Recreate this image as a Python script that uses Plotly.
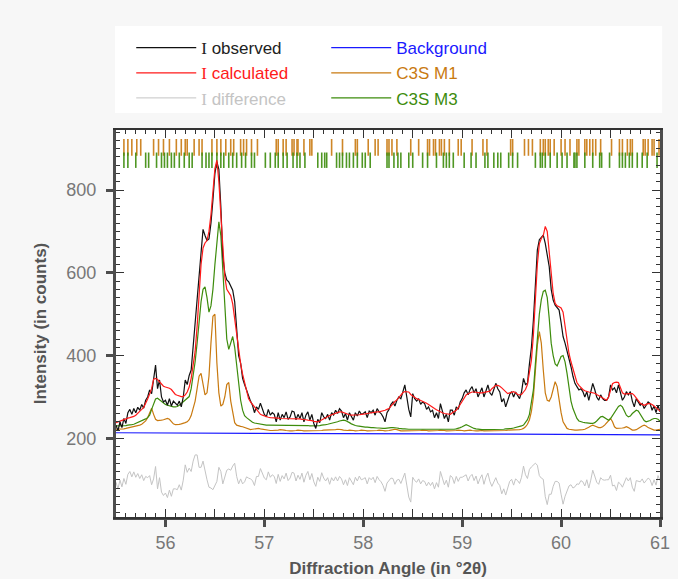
import numpy as np
import plotly.graph_objects as go

# ---------------- data ----------------
angle_start = 55.50
angle_step = 0.02

i_observed = [
    232, 218, 240, 226, 248, 236, 262, 270, 258, 272,
    262, 275, 268, 282, 273, 292, 300, 317, 308, 345,
    377, 320, 341, 300, 288, 292, 280, 296, 278, 290,
    284, 280, 290, 276, 300, 341, 330, 352, 365, 420,
    470, 530, 590, 650, 705, 690, 678, 682, 720, 776,
    840, 868, 850, 760, 640, 600, 583, 578, 568, 558,
    530, 454, 400, 382, 345, 330, 317, 300, 290, 280,
    262, 276, 270, 285, 272, 258, 252, 270, 256, 262,
    258, 240, 262, 244, 258, 250, 264, 246, 252, 266,
    264, 245, 258, 248, 262, 240, 256, 264, 244, 258,
    236, 224, 246, 238, 262, 252, 248, 258, 244, 262,
    256, 268, 260, 272, 266, 250, 260, 244, 262, 252,
    244, 262, 254, 266, 258, 260, 264, 250, 266, 262,
    268, 256, 272, 264, 260, 252, 240, 262, 270, 282,
    288, 278, 292, 300, 296, 312, 329, 300, 270, 252,
    308, 296, 290, 296, 282, 288, 284, 270, 276, 264,
    268, 250, 262, 248, 284, 266, 248, 258, 240, 268,
    268, 256, 276, 270, 288, 296, 310, 317, 305, 318,
    325, 310, 320, 300, 313, 322, 300, 318, 329, 310,
    304, 318, 333, 320, 312, 288, 296, 276, 290, 306,
    313, 300, 312, 304, 296, 312, 345, 330, 333, 380,
    420, 486, 580, 655, 680, 687, 691, 671, 640, 615,
    560, 534, 522, 516, 510, 480, 446, 430, 413, 390,
    373, 350, 333, 325, 317, 320, 313, 300, 313, 292,
    310, 333, 318, 300, 292, 305, 296, 292, 292, 300,
    329, 317, 322, 310, 329, 312, 292, 300, 313, 305,
    313, 290, 276, 296, 288, 280, 284, 272, 280, 288,
    284, 268, 278, 262, 280, 264,
]

i_calculated = [
    238, 240, 241, 243, 245, 247, 249, 250, 251, 253,
    256, 260, 265, 270, 275, 284, 295, 307, 320, 343,
    345, 342, 336, 330, 326, 324, 323, 321, 318, 312,
    306, 304, 302, 301, 301, 305, 312, 324, 345, 375,
    410, 470, 560, 620, 660, 672, 678, 700, 740, 800,
    852, 872, 820, 740, 650, 590, 560, 552, 545, 525,
    490, 446, 410, 380, 355, 335, 310, 296, 288, 282,
    276, 268, 262, 258, 256, 254, 252, 251, 250, 250,
    250, 249, 249, 248, 248, 248, 248, 248, 248, 248,
    248, 248, 247, 247, 246, 246, 245, 244, 244, 243,
    241, 240, 240, 242, 245, 248, 251, 253, 255, 257,
    259, 261, 263, 264, 264, 262, 260, 258, 257, 256,
    256, 256, 257, 257, 258, 258, 259, 260, 261, 262,
    262, 263, 264, 264, 265, 266, 268, 270, 272, 278,
    285, 289, 293, 299, 305, 310, 313, 313, 312, 306,
    302, 298, 296, 294, 292, 290, 288, 285, 282, 278,
    274, 272, 269, 266, 264, 262, 260, 259, 258, 258,
    262, 265, 268, 274, 282, 290, 300, 305, 308, 310,
    312, 312, 311, 310, 310, 310, 311, 312, 313, 314,
    320, 324, 328, 328, 326, 322, 318, 313, 308, 310,
    312, 313, 310, 306, 305, 306, 312, 318, 330, 355,
    389, 450, 540, 620, 670, 683, 690, 712, 700, 650,
    595, 550, 526, 520, 518, 515, 505, 470, 438, 405,
    385, 370, 350, 335, 328, 322, 318, 315, 313, 312,
    311, 310, 309, 306, 303, 300, 296, 293, 292, 300,
    318, 332, 335, 336, 335, 322, 310, 307, 308, 308,
    308, 308, 304, 298, 292, 285, 282, 280, 282, 284,
    284, 282, 278, 275, 270, 266,
]

c3s_m1 = [
    222, 222, 222, 223, 223, 224, 225, 226, 227, 228,
    229, 230, 232, 234, 237, 242, 250, 262, 273, 258,
    246, 243, 243, 244, 245, 246, 248, 246, 240, 235,
    233, 233, 234, 235, 236, 238, 240, 245, 255, 270,
    290, 320, 350, 357, 335, 305, 310, 350, 430, 495,
    500, 382, 310, 278, 282, 300, 330, 335, 290, 258,
    238, 232, 230, 229, 228, 226, 224, 222, 221, 222,
    223, 224, 224, 223, 222, 221, 220, 220, 219, 219,
    219, 220, 220, 221, 221, 220, 219, 218, 218, 218,
    218, 219, 220, 220, 219, 218, 218, 218, 219, 219,
    218, 218, 218, 219, 219, 220, 220, 221, 221, 220,
    220, 221, 222, 222, 221, 220, 219, 219, 220, 220,
    219, 218, 218, 219, 220, 220, 219, 218, 218, 218,
    218, 219, 219, 220, 220, 219, 218, 218, 219, 220,
    221, 222, 221, 219, 218, 218, 218, 219, 219, 218,
    218, 218, 218, 219, 219, 220, 220, 219, 218, 218,
    218, 218, 218, 219, 220, 220, 219, 218, 218, 218,
    218, 218, 219, 220, 220, 219, 218, 219, 220, 220,
    219, 218, 218, 218, 219, 219, 218, 218, 218, 218,
    218, 218, 218, 218, 218, 219, 219, 219, 220, 220,
    220, 220, 220, 221, 221, 222, 224, 228, 234, 245,
    265, 300, 360, 425, 458, 430, 365, 310, 292, 290,
    300, 320, 337, 325, 292, 262, 240, 230, 224, 222,
    221, 220, 220, 220, 220, 220, 221, 222, 224, 227,
    230, 232, 230, 228, 226, 226, 228, 232, 238, 244,
    248, 240, 228, 224, 224, 224, 225, 226, 228, 226,
    222, 220, 220, 221, 224, 228, 230, 232, 230, 226,
    224, 222, 220, 220, 221, 222,
]

c3s_m3 = [
    230, 230, 230, 231, 231, 231, 232, 232, 233, 234,
    236, 238, 240, 242, 244, 247, 250, 256, 270, 285,
    295, 297, 293, 288, 285, 282, 280, 278, 277, 276,
    276, 277, 280, 284, 288, 292, 296, 301, 320, 350,
    385, 430, 480, 530, 560, 566, 540, 505, 520, 560,
    620, 680, 723, 690, 600, 510, 440, 415, 430, 446,
    420, 375, 325, 292, 268, 255, 250, 246, 242, 239,
    237, 236, 235, 234, 233, 232, 232, 232, 232, 232,
    232, 232, 231, 231, 231, 231, 232, 232, 232, 232,
    232, 232, 232, 232, 232, 231, 231, 231, 230, 230,
    230, 230, 231, 231, 232, 232, 233, 234, 235, 236,
    237, 238, 240, 242, 243, 244, 243, 241, 238, 235,
    232, 231, 230, 229, 228, 228, 227, 227, 226, 226,
    226, 225, 225, 225, 224, 224, 224, 225, 225, 226,
    226, 226, 225, 224, 223, 223, 223, 222, 222, 222,
    222, 222, 222, 222, 222, 222, 222, 222, 222, 222,
    222, 222, 222, 221, 221, 221, 221, 221, 221, 222,
    222, 222, 223, 224, 226, 228, 231, 233, 231, 228,
    226, 224, 223, 222, 222, 221, 221, 221, 221, 221,
    221, 221, 221, 222, 222, 222, 222, 223, 223, 224,
    224, 225, 226, 227, 228, 230, 232, 238, 245, 258,
    285, 317, 380, 446, 500, 535, 555, 558, 540, 490,
    430, 400, 380, 375, 385, 398, 400, 385, 357, 320,
    290, 272, 258, 248, 242, 240, 239, 238, 237, 236,
    236, 236, 238, 242, 248, 252, 253, 250, 246, 244,
    248, 255, 262, 270, 277, 280, 276, 266, 256, 252,
    254, 260, 265, 268, 266, 258, 250, 243, 240, 241,
    243, 246, 248, 248, 246, 242,
]

background_angle = [55.5, 56.5, 57.5, 58.5, 59.5, 60.5, 61.0]
background = [213.5, 213.0, 212.0, 211.0, 210.0, 209.0, 208.5]

diff_offset = 100

# reflection (hkl) positions
refl_m1 = [
    55.58, 55.62, 55.66, 55.71, 55.75, 55.88, 55.93, 55.98, 56.04, 56.11,
    56.16, 56.20, 56.22, 56.29, 56.34, 56.37, 56.47, 56.52, 56.56, 56.61,
    56.66, 56.69, 56.76, 56.79, 56.82, 56.87, 56.93, 57.12, 57.14, 57.19,
    57.22, 57.28, 57.30, 57.33, 57.34, 57.40, 57.46, 57.48, 57.68, 57.79,
    57.92, 57.94, 58.05, 58.12, 58.15, 58.24, 58.26, 58.29, 58.34, 58.48,
    58.56, 58.65, 58.67, 58.71, 58.73, 58.77, 58.79, 58.82, 58.87, 58.96,
    58.99, 59.10, 59.21, 59.25, 59.49, 59.51, 59.63, 59.67, 59.71, 59.79,
    59.82, 59.84, 59.87, 59.89, 59.93, 60.00, 60.04, 60.09, 60.16, 60.18,
    60.24, 60.26, 60.29, 60.32, 60.35, 60.40, 60.51, 60.59, 60.62, 60.67,
    60.70, 60.72, 60.83, 60.85, 60.88, 60.92, 60.94, 60.99,
]
refl_m3 = [
    55.58, 55.62, 55.70, 55.80, 55.83, 55.91, 55.96, 55.99, 56.02, 56.06,
    56.09, 56.14, 56.19, 56.24, 56.27, 56.37, 56.41, 56.44, 56.47, 56.52,
    56.56, 56.59, 56.64, 56.68, 56.72, 56.77, 56.81, 56.87, 56.90, 57.01,
    57.06, 57.11, 57.14, 57.19, 57.23, 57.29, 57.33, 57.36, 57.41, 57.54,
    57.58, 57.61, 57.63, 57.73, 57.76, 57.79, 57.83, 57.86, 57.90, 57.94,
    57.99, 58.02, 58.07, 58.24, 58.26, 58.31, 58.35, 58.38, 58.46, 58.50,
    58.60, 58.65, 58.74, 58.81, 58.84, 58.87, 58.91, 59.02, 59.09, 59.14,
    59.23, 59.26, 59.32, 59.36, 59.39, 59.47, 59.51, 59.56, 59.74, 59.79,
    59.81, 59.84, 59.89, 59.96, 60.01, 60.06, 60.13, 60.14, 60.16, 60.24,
    60.32, 60.39, 60.41, 60.49, 60.59, 60.62, 60.65, 60.69, 60.72, 60.77,
    60.82, 60.87, 60.97,
]
refl_m1_level = 903
refl_m3_level = 872

# ---------------- derived ----------------
two_theta = np.round(angle_start + angle_step * np.arange(len(i_observed)), 2)
i_difference = np.array(i_observed) - np.array(i_calculated) + diff_offset

COL_OBS = "#111111"
COL_CALC = "#ff1a1a"
COL_DIFF = "#c4c4c4"
COL_BG = "#1a1aff"
COL_M1 = "#c97a10"
COL_M3 = "#3d8c0c"
SERIF = "Liberation Serif"

fig = go.Figure()

fig.add_trace(go.Scatter(x=refl_m1, y=[refl_m1_level] * len(refl_m1), mode="markers",
                         marker=dict(symbol="line-ns", size=12, color=COL_M1,
                                     line=dict(color=COL_M1, width=1.6)),
                         opacity=0.9, showlegend=False, hoverinfo="x"))
fig.add_trace(go.Scatter(x=refl_m3, y=[refl_m3_level] * len(refl_m3), mode="markers",
                         marker=dict(symbol="line-ns", size=11, color=COL_M3,
                                     line=dict(color=COL_M3, width=1.6)),
                         opacity=0.9, showlegend=False, hoverinfo="x"))

fig.add_trace(go.Scatter(x=two_theta, y=i_difference, mode="lines",
                         line=dict(color=COL_DIFF, width=1),
                         name=f"<span style='font-family:{SERIF};color:{COL_DIFF}'>I</span>"
                              f"<span style='color:{COL_DIFF}'> difference</span>",
                         legendrank=5))
fig.add_trace(go.Scatter(x=background_angle, y=background, mode="lines",
                         line=dict(color=COL_BG, width=1.2),
                         name=f"<span style='color:{COL_BG}'>Background</span>",
                         legendrank=2))
fig.add_trace(go.Scatter(x=two_theta, y=c3s_m1, mode="lines",
                         line=dict(color=COL_M1, width=1.2),
                         name=f"<span style='color:{COL_M1}'>C3S M1</span>",
                         legendrank=4))
fig.add_trace(go.Scatter(x=two_theta, y=c3s_m3, mode="lines",
                         line=dict(color=COL_M3, width=1.2),
                         name=f"<span style='color:{COL_M3}'>C3S M3</span>",
                         legendrank=6))
fig.add_trace(go.Scatter(x=two_theta, y=i_observed, mode="lines",
                         line=dict(color=COL_OBS, width=1.2),
                         name=f"<span style='font-family:{SERIF};color:#222'>I</span>"
                              f"<span style='color:#222'> observed</span>",
                         legendrank=1))
fig.add_trace(go.Scatter(x=two_theta, y=i_calculated, mode="lines",
                         line=dict(color=COL_CALC, width=1.2),
                         name=f"<span style='font-family:{SERIF};color:{COL_CALC}'>I</span>"
                              f"<span style='color:{COL_CALC}'> calculated</span>",
                         legendrank=3))

# invisible trace that carries the overlay (inner tick) axes
fig.add_trace(go.Scatter(x=[55.5], y=[10], xaxis="x2", yaxis="y2", mode="markers",
                         marker=dict(opacity=0), showlegend=False, hoverinfo="skip"))

X_RANGE = [55.5, 61.0]
Y_RANGE = [10, 945]
AX_COL = "#4d4d4d"
TXT = "#777777"

fig.update_layout(
    width=678, height=579,
    paper_bgcolor="#f7f7f7", plot_bgcolor="white",
    margin=dict(l=116, r=18, t=130, b=62, autoexpand=False),
    font=dict(family="Liberation Sans, Arial, sans-serif", color=TXT),
    xaxis=dict(range=X_RANGE, dtick=1, tick0=0, ticks="outside", ticklen=7, tickwidth=2.5,
               tickcolor=AX_COL, showline=True, linewidth=3, linecolor=AX_COL,
               showgrid=False, zeroline=False, tickfont=dict(size=18, color=TXT),
               ticklabelstandoff=0,
               title=dict(text="Diffraction Angle (in °2θ)", standoff=11,
                          font=dict(size=17, color="#555555", weight="bold"))),
    yaxis=dict(range=Y_RANGE, tickvals=[200, 400, 600, 800], ticks="outside", ticklen=7,
               tickwidth=2.5, tickcolor=AX_COL, showline=True, linewidth=3, linecolor=AX_COL,
               showgrid=False, zeroline=False, tickfont=dict(size=18, color=TXT),
               ticklabelstandoff=6,
               title=dict(text="Intensity (in counts)", standoff=16,
                          font=dict(size=17, color="#555555", weight="bold"))),
    xaxis2=dict(range=X_RANGE, overlaying="x", side="top", anchor="y", dtick=0.5, tick0=0,
                ticks="inside", ticklen=8, tickwidth=1.2, tickcolor="#333",
                minor=dict(dtick=0.1, tick0=0, ticks="inside", ticklen=4, tickwidth=1,
                           tickcolor="#333"),
                mirror="allticks", showline=True, linewidth=1.5, linecolor="#333",
                showticklabels=False, showgrid=False, zeroline=False),
    yaxis2=dict(range=Y_RANGE, overlaying="y", side="right", anchor="x", dtick=200, tick0=0,
                ticks="inside", ticklen=8, tickwidth=1.2, tickcolor="#333",
                minor=dict(dtick=20, tick0=0, ticks="inside", ticklen=4, tickwidth=1,
                           tickcolor="#333"),
                mirror="allticks", showline=True, linewidth=2.5, linecolor=AX_COL,
                showticklabels=False, showgrid=False, zeroline=False),
    legend=dict(orientation="h", x=0.028, xanchor="left", y=1.258, yanchor="top",
                bgcolor="rgba(0,0,0,0)", font=dict(size=17, color="#222"),
                itemwidth=60, entrywidth=120, entrywidthmode="pixels",
                traceorder="normal"),
    shapes=[dict(type="rect", xref="paper", yref="paper", x0=-0.002, x1=1.004,
                 y0=1.044, y1=1.269, fillcolor="white", line=dict(width=0), layer="below")],
    showlegend=True,
)

fig.write_html(
    "out.html",
    config={"displayModeBar": False},
    post_script="document.body.style.margin='0';document.body.style.background='#f7f7f7';",
)
